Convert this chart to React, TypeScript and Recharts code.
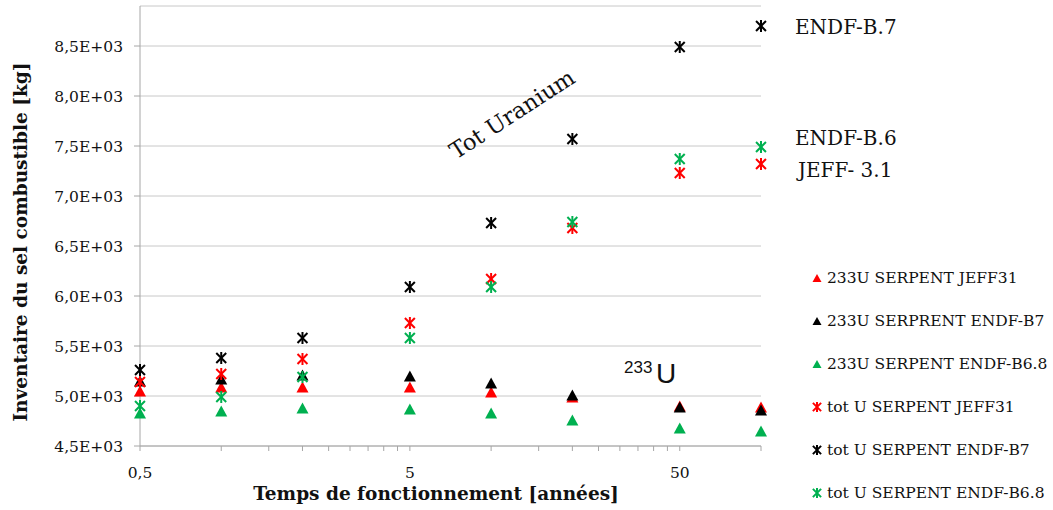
import React from 'react';
import { ScatterChart, Scatter, XAxis, YAxis, CartesianGrid } from 'recharts';

// Operating time (years)
const years = [0.5, 1, 2, 5, 10, 20, 50, 100];

// 233U inventories (kg)
const u233Jeff31 = [5050, 5090, 5090, 5090, 5040, 4990, 4900, 4890];
const u233EndfB7 = [5150, 5170, 5210, 5200, 5130, 5010, 4890, 4860];
const u233EndfB68 = [4830, 4850, 4880, 4870, 4830, 4760, 4680, 4650];

// Total uranium inventories (kg)
const totJeff31 = [5140, 5220, 5370, 5730, 6170, 6680, 7230, 7320];
const totEndfB7 = [5260, 5380, 5580, 6090, 6730, 7570, 8490, 8700];
const totEndfB68 = [4900, 4990, 5190, 5580, 6090, 6740, 7370, 7490];

const xTicks = [0.5, 1, 1.5, 2, 2.5, 3, 3.5, 4, 4.5, 5, 10, 15, 20, 25, 30, 35, 40, 45, 50, 100];
const xLabelled: Record<string, string> = { '0.5': '0,5', '5': '5', '50': '50' };
const yTicks = [4500, 5000, 5500, 6000, 6500, 7000, 7500, 8000, 8500];

const RED = '#ff0000';
const BLACK = '#000000';
const GREEN = '#00b050';

const SERIF = '"DejaVu Serif", serif';

const makeTriangle = (color: string, w = 12, h = 11) => (props: any) => {
  const { cx, cy } = props;
  if (cx == null || cy == null) return <g />;
  return (
    <polygon
      points={`${cx},${cy - h / 2} ${cx - w / 2},${cy + h / 2} ${cx + w / 2},${cy + h / 2}`}
      fill={color}
    />
  );
};

const makeStar = (color: string, r = 5) => (props: any) => {
  const { cx, cy } = props;
  if (cx == null || cy == null) return <g />;
  const d = r * 0.85;
  return (
    <g stroke={color} strokeWidth={2} strokeLinecap="square">
      <line x1={cx} y1={cy - r} x2={cx} y2={cy + r} />
      <line x1={cx - d} y1={cy - d} x2={cx + d} y2={cy + d} />
      <line x1={cx - d} y1={cy + d} x2={cx + d} y2={cy - d} />
    </g>
  );
};

const toPoints = (vals: number[]) => years.map((x, i) => ({ x, y: vals[i] }));

const series = [
  { name: '233U SERPENT JEFF31', data: u233Jeff31, color: RED, kind: 'tri' },
  { name: '233U SERPRENT ENDF-B7', data: u233EndfB7, color: BLACK, kind: 'tri' },
  { name: '233U SERPENT ENDF-B6.8', data: u233EndfB68, color: GREEN, kind: 'tri' },
  { name: 'tot U SERPENT JEFF31', data: totJeff31, color: RED, kind: 'star' },
  { name: 'tot U SERPENT ENDF-B7', data: totEndfB7, color: BLACK, kind: 'star' },
  { name: 'tot U SERPENT ENDF-B6.8', data: totEndfB68, color: GREEN, kind: 'star' },
];

const legendRows = [278, 321, 364, 407, 450, 493];

export default function App() {
  return (
    <div style={{ position: 'absolute', left: 0, top: 0, width: 1053, height: 510, background: '#fff' }}>
      <ScatterChart width={1053} height={510} margin={{ top: 6, right: 292, bottom: 0, left: 0 }}>
        <CartesianGrid horizontal vertical={false} stroke="#c8c8c8" strokeWidth={1} />
        <XAxis
          type="number"
          dataKey="x"
          scale="log"
          domain={[0.5, 100]}
          ticks={xTicks}
          height={64}
          stroke="#a6a6a6"
          tickSize={5}
          tickMargin={16}
          tick={{ fontFamily: SERIF, fontSize: 15.5, fill: '#111' }}
          tickFormatter={(v: number) => xLabelled[String(v)] ?? ''}
          interval={0}
        />
        <YAxis
          type="number"
          dataKey="y"
          domain={[4500, 8900]}
          ticks={yTicks}
          width={140}
          stroke="#a6a6a6"
          tickSize={6}
          tickMargin={11}
          tick={{ fontFamily: SERIF, fontSize: 15.5, fill: '#111' }}
          tickFormatter={(v: number) => (v / 1000).toFixed(1).replace('.', ',') + 'E+03'}
          interval={0}
        />
        {series.map((s) => (
          <Scatter
            key={s.name}
            name={s.name}
            data={toPoints(s.data)}
            fill={s.color}
            isAnimationActive={false}
            shape={s.kind === 'tri' ? makeTriangle(s.color) : makeStar(s.color)}
          />
        ))}
      </ScatterChart>
      <svg
        width={1053}
        height={510}
        style={{ position: 'absolute', left: 0, top: 0, pointerEvents: 'none' }}
      >
        <text
          x={20}
          y={242}
          transform="rotate(-90 20 242)"
          textAnchor="middle"
          dominantBaseline="central"
          fontFamily={SERIF}
          fontWeight="bold"
          fontSize={18.5}
          fill="#111"
        >
          Inventaire du sel combustible [kg]
        </text>
        <text
          x={436}
          y={493}
          textAnchor="middle"
          dominantBaseline="central"
          fontFamily={SERIF}
          fontWeight="bold"
          fontSize={18.5}
          fill="#111"
        >
          Temps de fonctionnement [années]
        </text>
        <text
          x={512}
          y={114}
          transform="rotate(-33 512 114)"
          textAnchor="middle"
          dominantBaseline="central"
          fontFamily={SERIF}
          fontSize={22.5}
          fill="#111"
        >
          Tot Uranium
        </text>
        <text x={795} y={27} dominantBaseline="central" fontFamily={SERIF} fontSize={20} fill="#111">
          ENDF-B.7
        </text>
        <text x={795} y={138} dominantBaseline="central" fontFamily={SERIF} fontSize={20} fill="#111">
          ENDF-B.6
        </text>
        <text x={798} y={170} dominantBaseline="central" fontFamily={SERIF} fontSize={20} fill="#111">
          JEFF- 3.1
        </text>
        <text x={624} y={373} fontFamily='"Liberation Sans", Arial, sans-serif' fontSize={17} fill="#111">
          233
        </text>
        <text x={656} y={383} fontFamily='"Liberation Sans", Arial, sans-serif' fontSize={28} fill="#111">
          U
        </text>
        {series.map((s, i) => {
          const cy = legendRows[i];
          const cx = 817;
          return (
            <g key={s.name}>
              {s.kind === 'tri'
                ? makeTriangle(s.color, 9, 8)({ cx, cy })
                : makeStar(s.color, 4)({ cx, cy })}
              <text x={827} y={cy} dominantBaseline="central" fontFamily={SERIF} fontSize={15.5} fill="#111">
                {s.name}
              </text>
            </g>
          );
        })}
      </svg>
    </div>
  );
}
